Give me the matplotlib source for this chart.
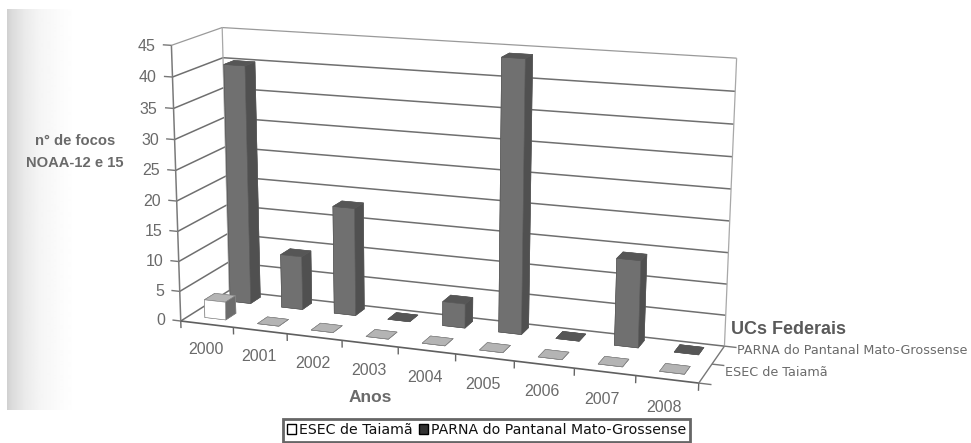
import numpy as np
import matplotlib
matplotlib.use("Agg")
import matplotlib.pyplot as plt
from matplotlib.patches import Patch
from mpl_toolkits.mplot3d.art3d import Line3DCollection
from mpl_toolkits.mplot3d import proj3d

years = ["2000", "2001", "2002", "2003", "2004", "2005", "2006", "2007", "2008"]
esec_taiama = [3, 0, 0, 0, 0, 0, 0, 0, 0]
parna_pantanal = [40, 9, 18, 0, 4, 44, 0, 14, 0]
value_ticks = [0, 5, 10, 15, 20, 25, 30, 35, 40, 45]
series_names = ["ESEC de Taiamã", "PARNA do Pantanal Mato-Grossense"]
legend_names = ["ESEC de Taiamã", "PARNA do Pantanal Mato-Grossense"]
value_title = "n° de focos\nNOAA-12 e 15"
year_title = "Anos"
series_title = "UCs Federais"

W, H = 971, 443
GRID = "#6f6f6f"
TEXT = "#6a6a6a"

# Camera calibration: (year axis, series axis, value) -> figure pixel.
camera_points = [
    (0, 0, 0, 182, 320), (1, 0, 0, 233, 327), (2, 0, 0, 287, 333), (3, 0, 0, 343, 340),
    (4, 0, 0, 398, 347), (5, 0, 0, 457, 354), (6, 0, 0, 514, 361), (7, 0, 0, 575, 369),
    (8, 0, 0, 635, 377), (9, 0, 0, 698, 385),
    (9, 2, 0, 725, 343), (9, 2, 20, 731, 221), (9, 2, 45, 736, 58),
    (0, 2, 0, 228, 292), (0, 2, 20, 226, 177), (0, 2, 45, 223, 28),
    (0, 0, 20, 176, 200), (0, 0, 45, 171, 45), (9, 1, 0, 711, 364),
]


def fit_camera(points):
    rows, rhs = [], []
    for x, y, z, u, v in points:
        rows.append([x, y, z, 1, 0, 0, 0, 0, -u * x, -u * y, -u * z])
        rows.append([0, 0, 0, 0, x, y, z, 1, -v * x, -v * y, -v * z])
        rhs += [u, v]
    p = np.linalg.lstsq(np.array(rows, float), np.array(rhs, float), rcond=None)[0]
    return np.array([
        p[:4],
        p[4:8],
        [-0.3, 1.0, -0.03, 0.0],  # depth row, larger means further away
        [p[8], p[9], p[10], 1.0],
    ])


fig = plt.figure(figsize=(W / 100, H / 100), dpi=100, facecolor="white")

# Flat layer in pixel units: page shadow on the left margin, plus the axis labels
back = fig.add_axes([0, 0, 1, 1], zorder=-1)
shade_x = np.arange(7, 75)
shade = np.interp(shade_x, [7, 12, 25, 40, 60, 75], [0.82, 0.86, 0.92, 0.96, 0.985, 1.0])
back.imshow(shade[None, :], extent=[7, 75, 410, 9], cmap="gray", vmin=0, vmax=1,
            aspect="auto", interpolation="bilinear")
back.set_xlim(0, W)
back.set_ylim(H, 0)
back.axis("off")

ax = fig.add_axes([0, 0, 1, 1], projection="3d", computed_zorder=False)
camera = fit_camera(camera_points)
ax.get_proj = lambda: camera
ax.apply_aspect = lambda position=None: None
ax.set_autoscale_on(False)
ax.set_facecolor("none")
ax.set_xticks([])
ax.set_yticks([])
ax.set_zticks([])
ax.set_axis_off()
ax.viewLim.intervalx = (0, W)
ax.viewLim.intervaly = (H, 0)

n = len(years)


def seg(x, y, z, color=GRID, lw=1.1, zorder=1):
    points = np.column_stack([x, y, z])
    ax.add_collection3d(Line3DCollection([points], colors=color, linewidths=lw, zorder=zorder),
                        autolim=False)


def axis_label(x, y, z, label, ha):
    # Text stays upright, so only its anchor goes through the camera
    u, v, _ = proj3d.proj_transform(x, y, z, camera)
    back.text(u, v, label, ha=ha, va="center", fontsize=11.5, color=TEXT,
              family="Liberation Sans")


# Walls and gridlines
for v in value_ticks:
    top = v == value_ticks[-1]
    c = "#9a9a9a" if top else GRID
    lw = 0.9 if top else 1.1
    seg([0, 0], [0, 2], [v, v], c, lw)
    seg([0, n], [2, 2], [v, v], c, lw)
    seg([-0.16, 0], [0, 0], [v, v], "#777777", 1.0)
    axis_label(-0.3, 0, v - 0.3, str(v), "right")
seg([0, 0], [0, 0], [0, value_ticks[-1]], "#7a7a7a", 1.1)
seg([0, 0], [2, 2], [0, value_ticks[-1]], "#a8a8a8", 0.9)
seg([n, n], [2, 2], [0, value_ticks[-1]], "#a8a8a8", 0.9)

# Floor edges and ticks
seg([0, n], [0, 0], [0, 0], "#5f5f5f", 1.2, 2)
seg([n, n], [0, 2], [0, 0], "#777777", 1.0, 2)
for i in range(n + 1):
    seg([i, i], [0, 0], [0, -1.2], "#666666", 1.0, 2)
for s in range(3):
    seg([n, n + 0.2], [s, s], [0, 0], "#777777", 1.0, 2)

# Bars, back row first so the front row overlaps it
bar_dx, bar_dy = 0.40, 0.42
rows = [
    (1.6, parna_pantanal, ["#585858", "#565656", "#707070", "#707070", "#505050", "#505050"], "#585858"),
    (0.55, esec_taiama, ["#b4b4b4", "#b4b4b4", "#ffffff", "#ffffff", "#6c6c6c", "#6c6c6c"], "#808080"),
]
order = 3
for row_y, values, faces, edge in rows:
    for i, v in enumerate(values):
        faces_now = faces if v > 0 or row_y < 1 else [faces[1]] * 6
        ax.bar3d(i + 0.5 - bar_dx / 2, row_y - bar_dy / 2, 0, bar_dx, bar_dy, v,
                 color=faces_now, shade=False, edgecolor=edge, linewidth=0.4, zorder=order)
        order += 1

# Year labels under the front edge
for i, label in enumerate(years):
    axis_label(i + 0.47, 0, -4.4, label, "center")

# Series labels beside the depth axis
fig.text(725 / W, 1 - 372 / H, series_names[0], ha="left", va="center",
         fontsize=9.2, color=TEXT, family="DejaVu Sans")
fig.text(737 / W, 1 - 351 / H, series_names[1], ha="left", va="center",
         fontsize=9.2, color=TEXT, family="DejaVu Sans")

# Axis titles
fig.text(75 / W, 1 - 152 / H, value_title, ha="center", va="center", fontsize=10.6,
         fontweight="bold", color=TEXT, family="Liberation Sans", linespacing=1.75)
fig.text(370 / W, 1 - 397 / H, year_title, ha="center", va="center", fontsize=12.5,
         fontweight="bold", color=TEXT, family="Liberation Sans")
fig.text(731 / W, 1 - 329 / H, series_title, ha="left", va="center", fontsize=13,
         fontweight="bold", color="#5a5a5a", family="Liberation Sans")

handles = [
    Patch(facecolor="white", edgecolor="black", linewidth=1.0),
    Patch(facecolor="#333333", edgecolor="black", linewidth=1.0),
]
leg = fig.legend(handles, legend_names, ncols=2, loc="upper left",
                 bbox_to_anchor=(283 / W, 1 - 419 / H), bbox_transform=fig.transFigure,
                 borderaxespad=0, fancybox=False, framealpha=1, edgecolor="#666666",
                 handlelength=0.6, handleheight=0.7, handletextpad=0.2, columnspacing=0.5,
                 borderpad=0.3, prop={"family": "DejaVu Sans", "size": 10.2})
leg.get_frame().set_linewidth(2)
for t in leg.get_texts():
    t.set_color("#111111")

fig.savefig("out.png", dpi=100)
